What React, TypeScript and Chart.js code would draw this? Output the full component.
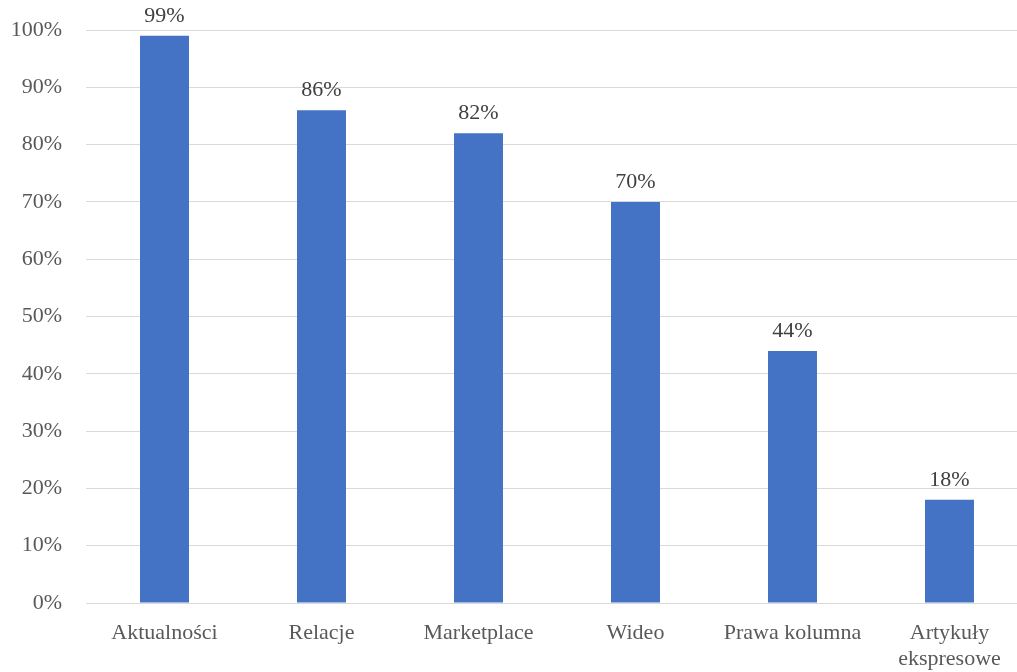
import React, { useEffect, useRef } from "react";
import { Chart, registerables } from "chart.js";

Chart.register(...registerables);

const categories: (string | string[])[] = [
  "Aktualności",
  "Relacje",
  "Marketplace",
  "Wideo",
  "Prawa kolumna",
  ["Artykuły", "ekspresowe"],
];
const values: number[] = [99, 86, 82, 70, 44, 18];
const yTicks: number[] = [0, 10, 20, 30, 40, 50, 60, 70, 80, 90, 100];

const FONT = "'Liberation Serif', 'Times New Roman', serif";

const dataLabels = {
  id: "dataLabels",
  afterDatasetsDraw(chart: any) {
    const ctx = chart.ctx;
    const meta = chart.getDatasetMeta(0);
    ctx.save();
    ctx.font = `22px ${FONT}`;
    ctx.fillStyle = "#404040";
    ctx.textAlign = "center";
    ctx.textBaseline = "bottom";
    meta.data.forEach((bar: any, i: number) => {
      ctx.fillText(values[i] + "%", bar.x, bar.y - 9);
    });
    ctx.restore();
  },
};

export default function App() {
  const ref = useRef<HTMLCanvasElement>(null);
  useEffect(() => {
    document.body.style.margin = "0";
    document.body.style.overflow = "hidden";
    const chart = new Chart(ref.current!, {
      type: "bar",
      data: {
        labels: categories,
        datasets: [
          {
            data: values,
            backgroundColor: "#4472C4",
            categoryPercentage: 1,
            barPercentage: 0.312,
          },
        ],
      },
      options: {
        animation: false,
        responsive: false,
        maintainAspectRatio: false,
        layout: { padding: { top: 30, left: 0, right: 0, bottom: 0 } },
        plugins: { legend: { display: false }, tooltip: { enabled: false } },
        scales: {
          x: {
            grid: { display: false, drawTicks: false },
            border: { color: "#d9d9d9", width: 1 },
            ticks: {
              color: "#595959",
              font: { family: FONT, size: 22, lineHeight: 1.2 },
              padding: 17,
              maxRotation: 0,
              autoSkip: false,
            },
            afterFit(scale: any) {
              scale.height = 69;
              scale.paddingTop = 0;
              scale.paddingBottom = 0;
              scale.paddingLeft = 0;
              scale.paddingRight = 0;
            },
          },
          y: {
            min: 0,
            max: 100,
            afterBuildTicks(scale: any) {
              scale.ticks = yTicks.map((v) => ({ value: v }));
            },
            grid: { color: "#d9d9d9", lineWidth: 1, drawTicks: false },
            border: { display: false },
            ticks: {
              color: "#595959",
              font: { family: FONT, size: 22 },
              padding: 24,
              callback: (v: any) => v + "%",
            },
            afterFit(scale: any) {
              scale.width = 86;
              scale.paddingTop = 0;
              scale.paddingBottom = 0;
            },
          },
        },
      },
      plugins: [dataLabels],
    });
    return () => chart.destroy();
  }, []);
  return (
    <div
      style={{
        position: "fixed",
        left: 0,
        top: 0,
        width: 1017,
        height: 672,
        overflow: "hidden",
        background: "#fff",
      }}
    >
      <canvas ref={ref} width={1028} height={672} style={{ display: "block" }} />
    </div>
  );
}
